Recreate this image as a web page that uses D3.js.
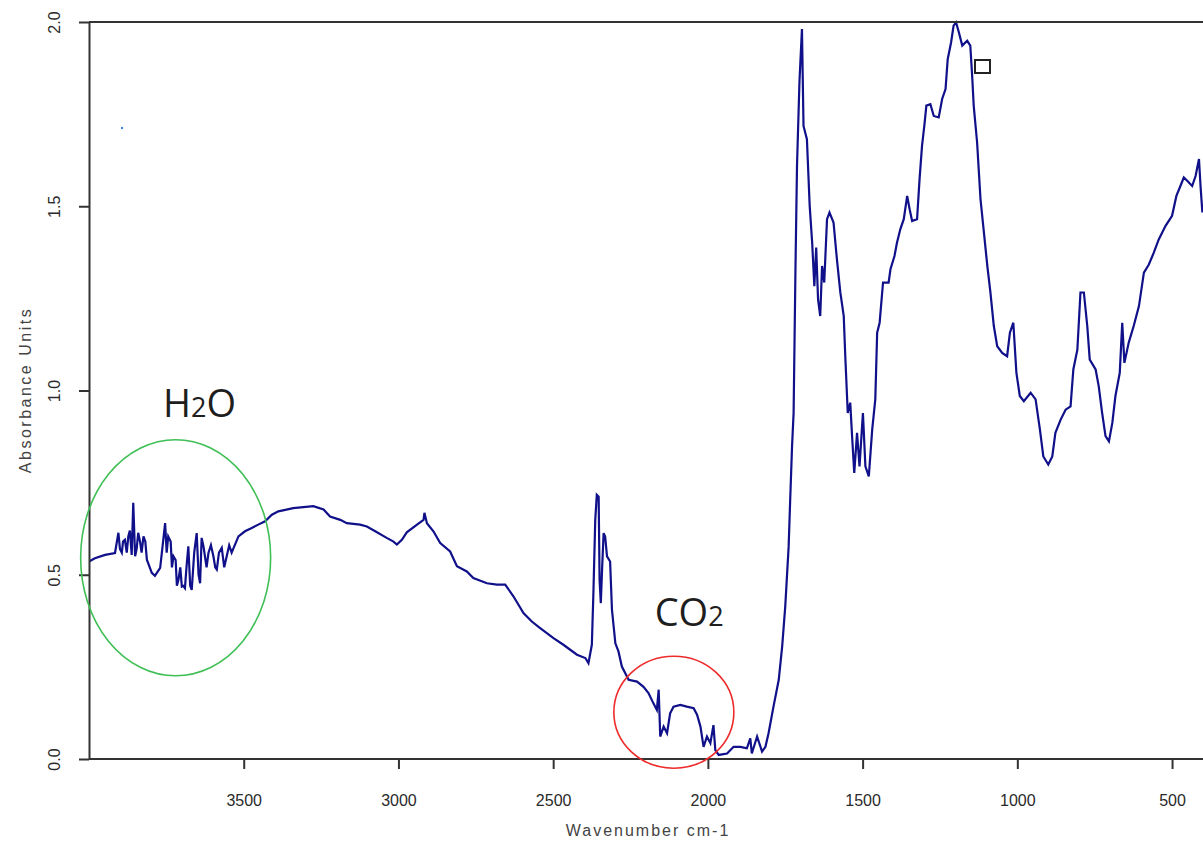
<!DOCTYPE html>
<html lang="en">
  <head>
    <meta charset="UTF-8" />
    <title>IR Spectrum</title>
    <style>
      body { margin: 0; background: #fff; }
      svg { display: block; }
      .axis path, .axis line { stroke: #333; stroke-width: 2; }
      .axis text { font-family: "Liberation Sans", Arial, sans-serif; font-size: 16px; fill: #2a2a2a; }
      .data-line { fill: none; stroke: #10108a; stroke-width: 2.2; stroke-linejoin: miter; }
      .title { font-family: "Liberation Sans", Arial, sans-serif; font-size: 16px; fill: #444; }
      .note { font-family: "Open Sans", "Noto Sans", sans-serif; font-size: 38px; fill: #1e1e1e; }
    </style>
  </head>
  <body>
    <script src="https://cdn.jsdelivr.net/npm/d3@7"></script>
    <script>

    // spectrum: wavenumber (cm-1) and absorbance
    var wavenumber = [
      4000, 3981, 3948, 3916, 3905, 3900, 3894, 3890, 3884, 3878, 3873, 3868, 3862, 3857, 3851,
      3846, 3841, 3835, 3830, 3824, 3818, 3813, 3797, 3787, 3770, 3754, 3749, 3744, 3736, 3732,
      3727, 3720, 3716, 3711, 3705, 3700, 3695, 3690, 3684, 3679, 3673, 3668, 3660, 3652, 3646,
      3641, 3636, 3630, 3620, 3614, 3606, 3598, 3592, 3587, 3580, 3571, 3563, 3555, 3547, 3539,
      3517, 3496, 3474, 3453, 3431, 3409, 3388, 3340, 3275, 3242, 3221, 3188, 3167, 3124, 3102,
      3075, 3038, 3016, 3005, 2989, 2973, 2940, 2919, 2916, 2908, 2887,
      2865, 2833, 2811, 2779, 2758, 2714, 2682, 2655, 2628, 2596, 2569, 2542, 2499, 2467, 2423,
      2396, 2386, 2375, 2370, 2364, 2359, 2353, 2350, 2346, 2342, 2337, 2332, 2326, 2316, 2310,
      2299, 2289, 2278, 2256, 2229, 2208, 2192, 2176, 2165, 2159, 2154, 2143, 2132, 2122, 2111,
      2089, 2068, 2046, 2035, 2024, 2014, 2003, 1992, 1982, 1976, 1965, 1938, 1917, 1895, 1874,
      1863, 1858, 1841, 1825, 1814, 1804, 1788, 1771, 1760, 1750, 1739, 1734, 1728, 1723, 1717,
      1712, 1704, 1696, 1691, 1680, 1671, 1663, 1656, 1650, 1644, 1637, 1631, 1624, 1615, 1607,
      1594, 1583, 1572, 1561, 1556, 1548, 1540, 1534, 1527, 1518, 1510, 1499, 1491, 1480, 1469,
      1459, 1453, 1445, 1434, 1416, 1410, 1397, 1389, 1378, 1367, 1356, 1348, 1340, 1324, 1316,
      1308, 1300, 1294, 1281, 1270, 1254, 1243, 1232, 1225, 1214, 1206, 1198, 1189, 1178, 1162,
      1152, 1146, 1141, 1130, 1119, 1108, 1097, 1087, 1076, 1065, 1049, 1033, 1024, 1013, 1003,
      992, 979, 957, 941, 927, 916, 900, 887, 877, 860, 844, 828, 819, 806, 796,
      785, 774, 766, 747, 737, 726, 715, 704, 693, 683, 669, 661, 654, 640, 624,
      607, 591, 575, 559, 543, 521, 500, 486, 473, 462, 451, 435, 424, 413, 408,
      402
    ];
    var absorbance = [
      0.536, 0.545, 0.554, 0.559, 0.614, 0.570, 0.560, 0.590, 0.595, 0.560, 0.604, 0.620, 0.554, 0.695, 0.550,
      0.570, 0.614, 0.590, 0.560, 0.604, 0.590, 0.541, 0.505, 0.497, 0.519, 0.640, 0.560, 0.604, 0.590, 0.520,
      0.550, 0.540, 0.470, 0.486, 0.520, 0.468, 0.470, 0.464, 0.530, 0.577, 0.470, 0.459, 0.560, 0.613, 0.500,
      0.477, 0.600, 0.577, 0.520, 0.559, 0.580, 0.550, 0.520, 0.514, 0.560, 0.573, 0.520, 0.550, 0.580, 0.560,
      0.604, 0.618, 0.627, 0.636, 0.645, 0.663, 0.672, 0.681, 0.686, 0.677, 0.658, 0.649, 0.640, 0.636, 0.631,
      0.618, 0.600, 0.590, 0.582, 0.595, 0.615, 0.636, 0.649, 0.668, 0.640, 0.618,
      0.586, 0.563, 0.523, 0.509, 0.491, 0.477, 0.473, 0.473, 0.441, 0.396, 0.373, 0.355, 0.328, 0.310, 0.283,
      0.274, 0.260, 0.310, 0.450, 0.649, 0.717, 0.712, 0.486, 0.423, 0.514, 0.613, 0.604, 0.550, 0.536, 0.405,
      0.314, 0.292, 0.251, 0.215, 0.210, 0.196, 0.179, 0.151, 0.133, 0.188, 0.061, 0.088, 0.070, 0.124, 0.142,
      0.147, 0.142, 0.138, 0.120, 0.088, 0.033, 0.061, 0.043, 0.092, 0.024, 0.011, 0.015, 0.033, 0.033, 0.029,
      0.056, 0.015, 0.061, 0.020, 0.033, 0.070, 0.142, 0.215, 0.305, 0.414, 0.577, 0.704, 0.849, 0.939, 1.329,
      1.610, 1.840, 1.981, 1.718, 1.682, 1.501, 1.401, 1.283, 1.388, 1.247, 1.202, 1.338, 1.293, 1.465, 1.483,
      1.456, 1.356, 1.266, 1.202, 1.093, 0.939, 0.967, 0.876, 0.776, 0.885, 0.794, 0.939, 0.794, 0.767, 0.894,
      0.976, 1.157, 1.184, 1.293, 1.293, 1.329, 1.365, 1.401, 1.438, 1.465, 1.528, 1.492, 1.460, 1.465, 1.573,
      1.664, 1.723, 1.773, 1.777, 1.745, 1.741, 1.791, 1.818, 1.899, 1.945, 1.990, 1.999, 1.972, 1.936, 1.949,
      1.936, 1.854, 1.773, 1.673, 1.519, 1.429, 1.338, 1.266, 1.175, 1.120, 1.102, 1.093, 1.157, 1.184, 1.048,
      0.985, 0.971, 0.994, 0.976, 0.894, 0.821, 0.799, 0.821, 0.885, 0.921, 0.948, 0.957, 1.057, 1.111, 1.266,
      1.266, 1.175, 1.084, 1.057, 1.012, 0.939, 0.876, 0.862, 0.912, 0.985, 1.048, 1.184, 1.075, 1.130, 1.175,
      1.229, 1.320, 1.342, 1.374, 1.410, 1.447, 1.474, 1.528, 1.555, 1.578, 1.569, 1.555, 1.582, 1.628, 1.555,
      1.483
    ];

    // axis ticks
    var xTicks = [3500, 3000, 2500, 2000, 1500, 1000, 500];
    var yTicks = [0.0, 0.5, 1.0, 1.5, 2.0];

    // hand drawn notes on the plot
    var noteLabels = ["H", "2", "O", "C", "O", "2"];
    var h2oNote = { wn: 3761, abs: 0.929 };
    var co2Note = { wn: 2172, abs: 0.36 };

    var w = 1203, h = 848;
    var margin = { top: 22, right: 0, bottom: 89, left: 89 };

    var svg = d3.select("body")
                .append("svg")
                .attr("width", w)
                .attr("height", h);

    var xScale = d3.scaleLinear()
      .domain([4000, 400])
      .range([margin.left, w - margin.right]);

    var yScale = d3.scaleLinear()
      .domain([0, 2])
      .range([h - margin.bottom, margin.top]);

    svg.append("clipPath")
       .attr("id", "plot-clip")
       .append("rect")
       .attr("x", margin.left)
       .attr("y", margin.top - 4)
       .attr("width", w - margin.left)
       .attr("height", h - margin.bottom - margin.top + 8);

    var points = wavenumber.map(function(d, i) { return [d, absorbance[i]]; });

    var line = d3.line()
      .x(function(d) { return xScale(d[0]); })
      .y(function(d) { return yScale(d[1]); });

    svg.append("path")
       .datum(points)
       .attr("class", "data-line")
       .attr("clip-path", "url(#plot-clip)")
       .attr("d", line);

    // top frame line
    svg.append("line")
       .attr("x1", xScale(4000))
       .attr("x2", w)
       .attr("y1", yScale(2))
       .attr("y2", yScale(2))
       .attr("stroke", "#333")
       .attr("stroke-width", 2);

    // x axis
    var xAxis = d3.axisBottom(xScale)
      .tickValues(xTicks)
      .tickSize(10)
      .tickSizeOuter(0)
      .tickPadding(26)
      .tickFormat(d3.format("d"));

    var gx = svg.append("g")
      .attr("class", "axis")
      .attr("transform", "translate(0," + yScale(0) + ")")
      .call(xAxis);
    gx.select(".domain").attr("d", "M" + xScale(4000) + ",0H" + w);

    // y axis with rotated labels
    var yAxis = d3.axisLeft(yScale)
      .tickValues(yTicks)
      .tickSize(10)
      .tickSizeOuter(0)
      .tickFormat(d3.format(".1f"));

    var gy = svg.append("g")
      .attr("class", "axis")
      .attr("transform", "translate(" + xScale(4000) + ",0)")
      .call(yAxis);

    gy.selectAll(".tick text")
      .attr("transform", "rotate(-90)")
      .attr("x", 0)
      .attr("y", -35)
      .attr("dy", "0.35em")
      .attr("text-anchor", "middle");

    // axis titles
    svg.append("text")
       .attr("class", "title")
       .attr("text-anchor", "middle")
       .attr("letter-spacing", 2)
       .attr("x", 648)
       .attr("y", 836)
       .text("Wavenumber cm-1");

    svg.append("text")
       .attr("class", "title")
       .attr("text-anchor", "middle")
       .attr("letter-spacing", 2.5)
       .attr("transform", "translate(31,390) rotate(-90)")
       .text("Absorbance Units");

    // circles round the water and CO2 regions
    svg.append("ellipse")
       .attr("cx", xScale(3720))
       .attr("cy", yScale(0.546))
       .attr("rx", 95)
       .attr("ry", 118)
       .attr("fill", "none")
       .attr("stroke", "#3fbf55")
       .attr("stroke-width", 1.6);

    svg.append("ellipse")
       .attr("cx", xScale(2110))
       .attr("cy", yScale(0.127))
       .attr("rx", 60)
       .attr("ry", 56)
       .attr("fill", "none")
       .attr("stroke", "#ee2b2b")
       .attr("stroke-width", 1.6);

    // H2O label
    var t1 = svg.append("text")
       .attr("class", "note")
       .attr("x", xScale(h2oNote.wn))
       .attr("y", yScale(h2oNote.abs));
    t1.append("tspan").text(noteLabels[0]);
    t1.append("tspan").attr("font-size", "27px").text(noteLabels[1]);
    t1.append("tspan").text(noteLabels[2]);

    // CO2 label
    var t2 = svg.append("text")
       .attr("class", "note")
       .attr("x", xScale(co2Note.wn))
       .attr("y", yScale(co2Note.abs));
    t2.append("tspan").text(noteLabels[3]);
    t2.append("tspan").text(noteLabels[4]);
    t2.append("tspan").attr("font-size", "27px").text(noteLabels[5]);

    // small marker box near the top peak
    svg.append("rect")
       .attr("x", 975)
       .attr("y", 60)
       .attr("width", 15)
       .attr("height", 13)
       .attr("fill", "none")
       .attr("stroke", "#222")
       .attr("stroke-width", 2);

    // stray blue dot
    svg.append("circle")
       .attr("cx", 122)
       .attr("cy", 128)
       .attr("r", 1.2)
       .attr("fill", "#3f86e6");

    </script>
  </body>
</html>
